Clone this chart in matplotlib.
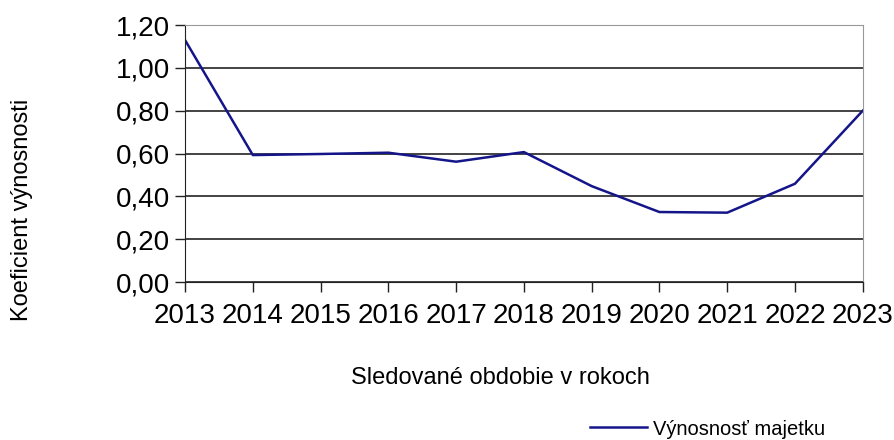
import matplotlib
matplotlib.use("Agg")
import matplotlib.pyplot as plt
from matplotlib.ticker import FuncFormatter, MultipleLocator

plt.rcParams['font.family'] = ['Liberation Sans', 'DejaVu Sans']

# data
years = [2013, 2014, 2015, 2016, 2017, 2018, 2019, 2020, 2021, 2022, 2023]
vynosnost = [1.13, 0.593, 0.598, 0.604, 0.562, 0.607, 0.448, 0.327, 0.324, 0.459, 0.80]

fig = plt.figure(figsize=(8.94, 4.40), dpi=100)
ax = fig.add_axes([0.207, 0.359, 0.758, 0.584])

ax.plot(years, vynosnost, color='#15158a', linewidth=1.8, label="Výnosnosť majetku")

ax.set_xlim(2013, 2023)
ax.set_ylim(0, 1.2)
ax.set_xticks(years)
ax.yaxis.set_major_locator(MultipleLocator(0.2))
ax.yaxis.set_major_formatter(FuncFormatter(lambda v, p: f"{v:.2f}".replace(".", ",")))
ax.grid(axis='y', color='#111111', linewidth=1.1)
ax.set_axisbelow(True)

for s in ['top', 'right']:
    ax.spines[s].set_color('#999999')
for s in ['left', 'bottom']:
    ax.spines[s].set_color('#222222')
ax.tick_params(axis='both', direction='out', length=7, width=1, color='#222222',
               labelsize=20, pad=4)
ax.tick_params(axis='x', pad=8)

fig.text(0.56, 0.14, "Sledované obdobie v rokoch", fontsize=17,
         ha='center', va='center')
fig.text(0.025, 0.523, "Koeficient výnosnosti", rotation=90, fontsize=17,
         ha='center', va='center')

fig.legend(loc='center left', bbox_to_anchor=(0.64, 0.025), frameon=False,
           fontsize=14.5, handlelength=2.8, handletextpad=0.3)

fig.savefig("out.png", dpi=100)
